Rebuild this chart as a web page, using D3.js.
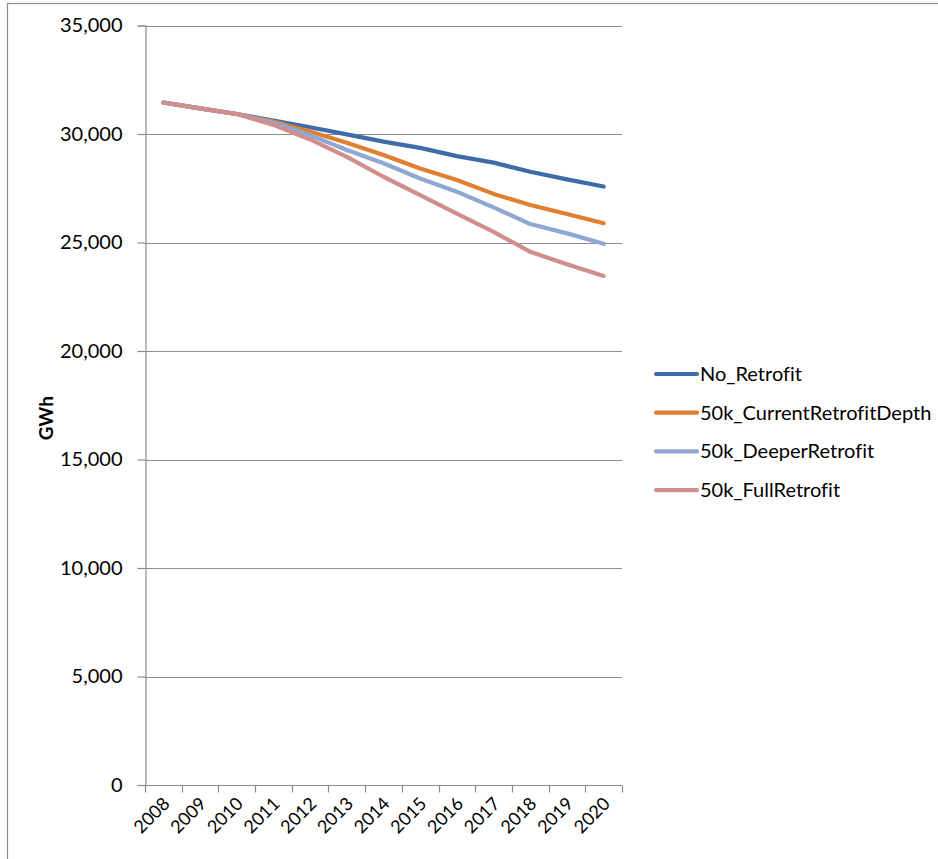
<!DOCTYPE html>
<html>
<head>
<meta charset="utf-8">
<script src="https://cdn.jsdelivr.net/npm/d3@7"></script>
<style>
  html, body { margin: 0; padding: 0; background: #fff; }
  svg { display: block; }
  text { font-family: Lato, "Open Sans", sans-serif; fill: #000; font-variant-ligatures: none; }
</style>
</head>
<body>
<svg id="chart" width="938" height="859"></svg>
<script>
// Annual electricity demand by retrofit scenario (GWh)
const years = ["2008","2009","2010","2011","2012","2013","2014","2015","2016","2017","2018","2019","2020"];
const seriesNames = ["No_Retrofit","50k_CurrentRetrofitDepth","50k_DeeperRetrofit","50k_FullRetrofit"];
const noRetrofit      = [31450,31180,30920,30620,30310,29980,29650,29360,28980,28680,28260,27910,27580];
const currentDepth    = [31450,31180,30920,30570,30110,29600,29030,28410,27880,27240,26730,26310,25890];
const deeperRetrofit  = [31450,31180,30920,30520,29950,29260,28650,27950,27340,26620,25850,25420,24940];
const fullRetrofit    = [31450,31180,30920,30420,29750,28950,28030,27180,26330,25490,24570,24000,23460];
const yTicks = [0,5000,10000,15000,20000,25000,30000,35000];
const colors = ["#3f6ca8","#e07f2f","#8fa8d2","#d08e8d"];

const series = [noRetrofit, currentDepth, deeperRetrofit, fullRetrofit];

const svg = d3.select("#chart");
const plot = { left: 145, right: 622, top: 25.5, bottom: 785 };
const fontSize = "20px";

// outer chart frame
svg.append("rect")
  .attr("x", 7.5).attr("y", 3.5)
  .attr("width", 1000).attr("height", 1000)
  .attr("fill", "none").attr("stroke", "#8c8c8c").attr("stroke-width", 1.2);

const x = d3.scaleBand().domain(years).range([plot.left, plot.right]);
const y = d3.scaleLinear().domain([0, 35000]).range([plot.bottom, plot.top]);

// horizontal gridlines
svg.append("g").selectAll("line").data(yTicks.filter(d => d > 0)).join("line")
  .attr("x1", plot.left).attr("x2", plot.right)
  .attr("y1", d => Math.round(y(d)) + 0.5).attr("y2", d => Math.round(y(d)) + 0.5)
  .attr("stroke", "#8c8c8c").attr("stroke-width", 1.2);

// y axis
const yAxis = svg.append("g")
  .attr("transform", `translate(${plot.left + 0.5},0)`)
  .call(d3.axisLeft(y).tickValues(yTicks).tickFormat(d3.format(",")).tickSize(8).tickPadding(15));
yAxis.select(".domain").attr("stroke", "#8c8c8c").attr("stroke-width", 1.2);
yAxis.selectAll(".tick line").attr("stroke", "#8c8c8c").attr("stroke-width", 1.2);
yAxis.selectAll(".tick text").style("font-size", fontSize).style("font-family", "Lato, sans-serif");

// x axis: ticks at category boundaries
const xAxisG = svg.append("g").attr("transform", `translate(0,${plot.bottom + 0.5})`);
xAxisG.append("line")
  .attr("x1", plot.left).attr("x2", plot.right)
  .attr("stroke", "#8c8c8c").attr("stroke-width", 1.2);
const boundaries = years.map(d => x(d)).concat([x(years[years.length - 1]) + x.bandwidth()]);
xAxisG.selectAll("line.tk").data(boundaries).join("line")
  .attr("class", "tk")
  .attr("x1", d => Math.round(d) + 0.5).attr("x2", d => Math.round(d) + 0.5)
  .attr("y1", 0).attr("y2", 7)
  .attr("stroke", "#8c8c8c").attr("stroke-width", 1.2);
xAxisG.selectAll("text").data(years).join("text")
  .attr("transform", d => `translate(${x(d) + x.bandwidth() / 2 + 3},${15}) rotate(-45)`)
  .attr("text-anchor", "end")
  .attr("dy", "0.35em")
  .style("font-size", "18px")
  .text(d => d);

// y axis title
svg.append("text")
  .attr("transform", `translate(53,${(plot.top + plot.bottom) / 2 + 13}) rotate(-90)`)
  .attr("text-anchor", "middle")
  .style("font-size", "19px").style("font-weight", "bold")
  .text("GWh");

// series lines
const line = d3.line()
  .x((d, i) => x(years[i]) + x.bandwidth() / 2)
  .y(d => y(d));
svg.append("g").selectAll("path").data(series).join("path")
  .attr("d", line)
  .attr("fill", "none")
  .attr("stroke", (d, i) => colors[i])
  .attr("stroke-width", 4.2)
  .attr("stroke-linecap", "round")
  .attr("stroke-linejoin", "round");

// legend
const legend = svg.append("g").selectAll("g").data(seriesNames).join("g")
  .attr("transform", (d, i) => `translate(656,${374 + i * 38.7})`);
legend.append("line")
  .attr("x1", 0).attr("x2", 41)
  .attr("stroke", (d, i) => colors[i])
  .attr("stroke-width", 4.2).attr("stroke-linecap", "round");
legend.append("text")
  .attr("x", 44).attr("dy", "0.35em")
  .style("font-size", fontSize)
  .text(d => d);
</script>
</body>
</html>
